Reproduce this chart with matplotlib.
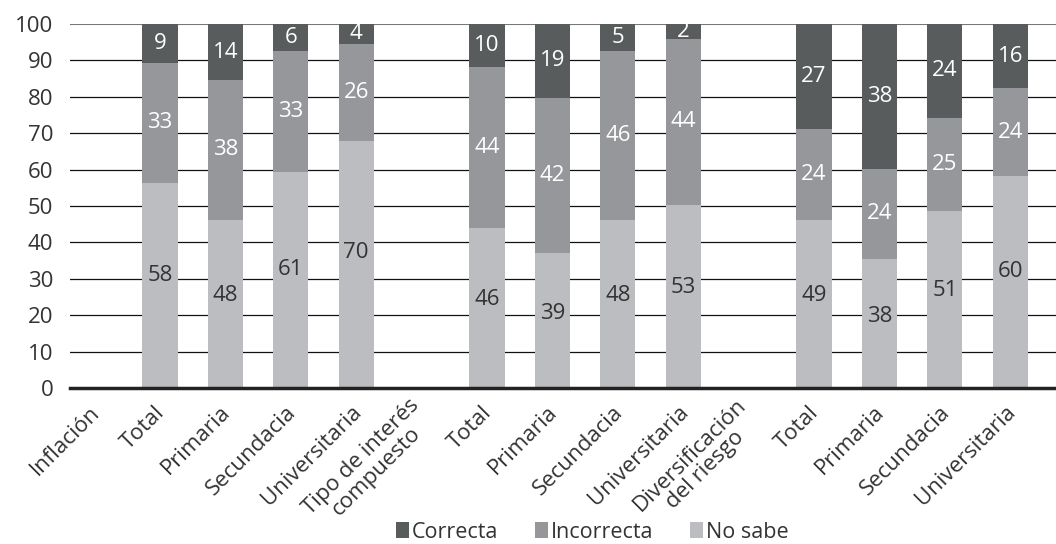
import numpy as np
import matplotlib.pyplot as plt

# grupos y subgrupos del eje x
grupos = ['Inflación', 'Tipo de interés\ncompuesto', 'Diversificación\ndel riesgo']
niveles = ['Total', 'Primaria', 'Secundacia', 'Universitaria']

# alturas de las barras
no_sabe = [56.3, 46.2, 59.2, 67.9, 44.0, 37.2, 46.2, 50.4, 46.2, 35.5, 48.7, 58.2]
incorrecta = [33.1, 38.4, 33.5, 26.7, 44.3, 42.6, 46.5, 45.5, 25.0, 24.7, 25.5, 24.2]
correcta = [10.6, 15.4, 7.3, 5.4, 11.7, 20.2, 7.3, 4.1, 28.8, 39.8, 25.8, 17.6]

# etiquetas impresas sobre cada segmento
et_no_sabe = [58, 48, 61, 70, 46, 39, 48, 53, 49, 38, 51, 60]
et_incorrecta = [33, 38, 33, 26, 44, 42, 46, 44, 24, 24, 25, 24]
et_correcta = [9, 14, 6, 4, 10, 19, 5, 2, 27, 38, 24, 16]

c_correcta = '#595c5c'
c_incorrecta = '#96979a'
c_no_sabe = '#bcbdc0'
texto = '#333333'

plt.rcParams['font.family'] = ['Open Sans', 'DejaVu Sans']

etiquetas_x = []
pos_barras = []
for g, grupo in enumerate(grupos):
	etiquetas_x.append(grupo)
	for n in niveles:
		pos_barras.append(len(etiquetas_x))
		etiquetas_x.append(n)
pos_barras = np.array(pos_barras)

fig = plt.figure(figsize=(10.56, 5.44), dpi=100)
ax = fig.add_axes([0.0663, 0.2868, 0.9337, 0.6691])

ns = np.array(no_sabe)
inc = np.array(incorrecta)
cor = np.array(correcta)
ancho = 0.54
ax.bar(pos_barras, ns, ancho, color=c_no_sabe, zorder=3, label='No sabe')
ax.bar(pos_barras, inc, ancho, bottom=ns, color=c_incorrecta, zorder=3, label='Incorrecta')
ax.bar(pos_barras, cor, ancho, bottom=ns + inc, color=c_correcta, zorder=3, label='Correcta')

for i, x in enumerate(pos_barras):
	ax.text(x, ns[i] * 0.55, str(et_no_sabe[i]), ha='center', va='center',
		color=texto, fontsize=16, zorder=4)
	ax.text(x, ns[i] + inc[i] / 2, str(et_incorrecta[i]), ha='center', va='center',
		color='white', fontsize=16, zorder=4)
	ax.text(x, ns[i] + inc[i] + cor[i] / 2, str(et_correcta[i]), ha='center', va='center',
		color='white', fontsize=16, zorder=4)

ax.set_ylim(0, 100)
ax.set_xlim(-0.376, 14.7)
ax.set_yticks(np.arange(0, 101, 10))
ax.yaxis.grid(True, color='#111111', linewidth=0.9, zorder=0)
ax.get_ygridlines()[-1].set_color('#777777')
ax.get_ygridlines()[-1].set_linewidth(1.5)
ax.tick_params(axis='y', length=0, labelsize=16, labelcolor=texto, pad=12)
ax.tick_params(axis='x', length=0, labelsize=16, labelcolor=texto, pad=14)
ax.set_xticks(range(len(etiquetas_x)))
ax.set_xticklabels(etiquetas_x, rotation=45, ha='right', va='center_baseline',
	rotation_mode='anchor', multialignment='center', linespacing=1.05)
for sp in ['top', 'right', 'left']:
	ax.spines[sp].set_visible(False)
ax.spines['bottom'].set_color('#222222')
ax.spines['bottom'].set_linewidth(2.5)
ax.spines['bottom'].set_zorder(5)

h, l = ax.get_legend_handles_labels()
fig.legend(h[::-1], l[::-1], loc='center', bbox_to_anchor=(0.561, 0.022), ncol=3,
	frameon=False, fontsize=15.5, handlelength=0.6, handleheight=0.8,
	handletextpad=0.15, columnspacing=1.7, labelcolor=texto)

fig.savefig('out.png', dpi=100)
